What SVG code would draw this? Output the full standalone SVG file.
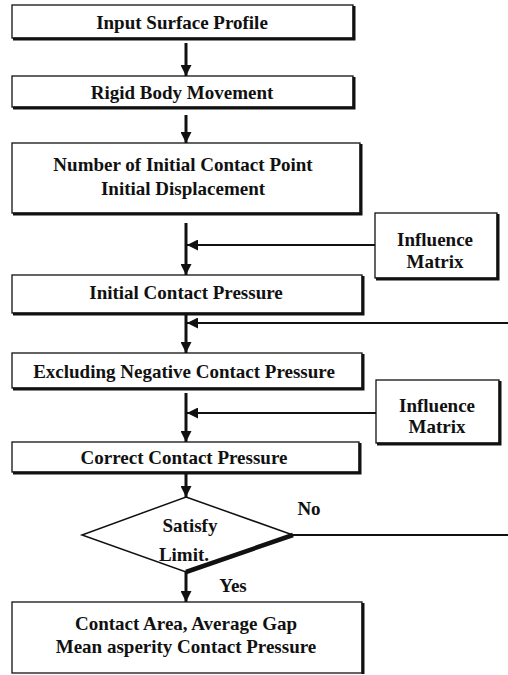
<svg xmlns="http://www.w3.org/2000/svg" width="508" height="675" viewBox="0 0 508 675">
<defs>
<style>
.box{fill:#fff;stroke:#111;stroke-width:1.3}
.sh{fill:none;stroke:#111;stroke-width:3}
.t{font-family:"Liberation Serif","Times New Roman",serif;font-weight:bold;font-size:19px;fill:#111;text-anchor:middle}
.v{stroke:#111;stroke-width:3;fill:none}
.h{stroke:#111;stroke-width:2;fill:none}
</style>
<marker id="ad" viewBox="0 0 10 10" refX="10" refY="5" markerWidth="11" markerHeight="11" markerUnits="userSpaceOnUse" orient="auto">
<path d="M0,0 L10,5 L0,10 Z" fill="#111"/>
</marker>
</defs>
<rect width="508" height="675" fill="#fff"/>
<g id="n1"><rect class="box" x="12" y="5" width="341" height="33"/><path class="sh" d="M354,6 V39 H13"/><text class="t" x="182" y="29">Input Surface Profile</text></g>
<g id="n2"><rect class="box" x="12" y="76" width="341" height="31"/><path class="sh" d="M354,77 V108 H13"/><text class="t" x="182" y="99">Rigid Body Movement</text></g>
<g id="n3"><rect class="box" x="12" y="143" width="348" height="70"/><path class="sh" d="M361,144 V214 H13"/><text class="t" x="183" y="171">Number of Initial Contact Point</text><text class="t" x="183" y="195">Initial Displacement</text></g>
<g id="m1"><rect class="box" x="375" y="213" width="122" height="65"/><path class="sh" d="M498,214 V279 H376"/><text class="t" x="435" y="246">Influence</text><text class="t" x="435" y="268">Matrix</text></g>
<g id="n4"><rect class="box" x="12" y="275" width="350" height="38"/><path class="sh" d="M363,276 V314 H13"/><text class="t" x="186" y="299">Initial Contact Pressure</text></g>
<g id="n5"><rect class="box" x="12" y="353" width="350" height="35"/><path class="sh" d="M363,354 V389 H13"/><text class="t" x="184" y="378">Excluding Negative Contact Pressure</text></g>
<g id="m2"><rect class="box" x="376" y="380" width="123" height="63"/><path class="sh" d="M500,381 V444 H377"/><text class="t" x="437" y="412">Influence</text><text class="t" x="437" y="433">Matrix</text></g>
<g id="n6"><rect class="box" x="12" y="442" width="347" height="30"/><path class="sh" d="M360,443 V473 H13"/><text class="t" x="184" y="464">Correct Contact Pressure</text></g>
<g id="d1"><path d="M186,497 L293,535 L186,572 L82,535 Z" fill="#fff" stroke="#111" stroke-width="1.5"/><path d="M293,535 L186,572" stroke="#111" stroke-width="4.5" fill="none"/><text class="t" x="190" y="532">Satisfy</text><text class="t" x="184" y="561">Limit.</text></g>
<g id="n7"><rect class="box" x="12" y="602" width="350" height="71"/><path class="sh" d="M363,603 V674"/><text class="t" x="186" y="630">Contact Area, Average Gap</text><text class="t" x="186" y="653">Mean asperity Contact Pressure</text></g>
<g id="connectors">
<path class="v" d="M186,43 V76" marker-end="url(#ad)"/>
<path class="v" d="M186,115 V143" marker-end="url(#ad)"/>
<path class="v" d="M186,223 V275" marker-end="url(#ad)"/>
<path class="h" d="M375,245 H187" marker-end="url(#ad)"/>
<path class="v" d="M186,315 V353" marker-end="url(#ad)"/>
<path class="h" d="M508,323 H187" marker-end="url(#ad)"/>
<path class="v" d="M186,393 V442" marker-end="url(#ad)"/>
<path class="h" d="M376,413 H187" marker-end="url(#ad)"/>
<path class="v" d="M186,472 V497" marker-end="url(#ad)"/>
<path class="v" d="M186,572 V602" marker-end="url(#ad)"/>
<path class="h" d="M293,535 H508"/>
<text class="t" x="309" y="515">No</text>
<text class="t" x="233" y="592">Yes</text>
</g>
</svg>
